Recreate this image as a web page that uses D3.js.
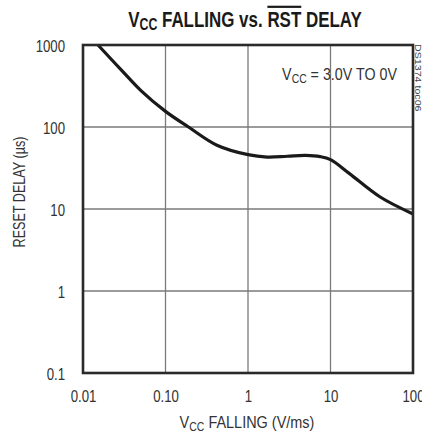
<!DOCTYPE html>
<html><head><meta charset="utf-8">
<script src="https://cdn.jsdelivr.net/npm/d3@7"></script>
<style>
body{margin:0;background:#fff;}
svg text{font-family:"Liberation Sans",Arial,sans-serif;}
</style></head>
<body><svg id="c" width="422" height="436"></svg>
<script>
const xTicks=[0.01,0.1,1,10,100];
const xTickLabels=["0.01","0.10","1","10","100"];
const yTicks=[0.1,1,10,100,1000];
const yTickLabels=["0.1","1","10","100","1000"];
const rate=[0.0152,0.03,0.05,0.1,0.19,0.42,1.0,1.7,3,5,7.5,10,17,40,100];
const delay=[1000,480,280,155,100,60,46,43,44,45,43.5,40,27,14,8.7];

const svg=d3.select("#c");
const L=83,R=413,T=45,B=373;
const x=d3.scaleLog().domain([0.01,100]).range([L,R]);
const y=d3.scaleLog().domain([0.1,1000]).range([B,T]);
const SX=0.8;

// gridlines
const g=svg.append("g");
g.selectAll(".vx").data(xTicks.slice(1,-1)).enter().append("line")
 .attr("x1",d=>x(d)).attr("x2",d=>x(d)).attr("y1",T).attr("y2",B)
 .attr("stroke","#7a7a7a").attr("stroke-width",1.3);
g.selectAll(".hy").data(yTicks.slice(1,-1)).enter().append("line")
 .attr("y1",d=>y(d)).attr("y2",d=>y(d)).attr("x1",L).attr("x2",R)
 .attr("stroke","#7a7a7a").attr("stroke-width",1.3);

// axes labels through d3 axes, then condense each label around its own anchor
const xa=svg.append("g").attr("transform",`translate(0,${B})`)
 .call(d3.axisBottom(x).tickValues(xTicks).tickFormat((d,i)=>xTickLabels[i]).tickSize(0).tickPadding(16));
const ya=svg.append("g").attr("transform",`translate(${L-18},0)`)
 .call(d3.axisLeft(y).tickValues(yTicks).tickFormat((d,i)=>yTickLabels[i]).tickSize(0).tickPadding(0));
[xa,ya].forEach(a=>{
  a.select(".domain").remove();
  a.selectAll("text").attr("font-size",16.5).attr("fill","#333")
   .style("font-family",'"Liberation Sans",Arial,sans-serif');
});
xa.selectAll(".tick text").attr("dy",null).attr("y",0).attr("transform",`translate(0,29) scale(${SX},1)`);
ya.selectAll(".tick text").attr("dy",null).attr("x",0).attr("transform",`translate(0,6) scale(${SX},1)`);

// curve
const line=d3.line().x((d,i)=>x(rate[i])).y((d,i)=>y(delay[i])).curve(d3.curveCatmullRom.alpha(0.5));
svg.append("path").datum(rate).attr("d",line).attr("fill","none")
 .attr("stroke","#1a1a1a").attr("stroke-width",3.2).attr("stroke-linejoin","round");

// frame
svg.append("rect").attr("x",L).attr("y",T).attr("width",R-L).attr("height",B-T)
 .attr("fill","none").attr("stroke","#2a2a2a").attr("stroke-width",2.6);

function fit(sel,cx,cy,anchor,w,rot){
  sel.attr("x",0).attr("y",0).attr("text-anchor",anchor);
  const bw=sel.node().getBBox().width;
  const s=w/bw;
  sel.attr("transform",`translate(${cx},${cy})${rot?` rotate(${rot})`:""} scale(${s},1)`);
}

// title
const t=svg.append("text").attr("font-size",22).attr("font-weight","bold").attr("fill","#1a1a1a");
t.append("tspan").text("V");
t.append("tspan").attr("font-size",16).attr("dy",3).text("CC");
t.append("tspan").attr("dy",-3).text(" FALLING vs. ");
t.append("tspan").attr("text-decoration","overline").text("RST");
t.append("tspan").text(" DELAY");
fit(t,245,27,"middle",234);

// annotation
const a=svg.append("text").attr("font-size",16.5).attr("fill","#333");
a.append("tspan").text("V");
a.append("tspan").attr("font-size",12).attr("dy",3).text("CC");
a.append("tspan").attr("dy",-3).text(" = 3.0V TO 0V");
fit(a,397,80,"end",115);

// x label
const xl=svg.append("text").attr("font-size",16.5).attr("fill","#333");
xl.append("tspan").text("V");
xl.append("tspan").attr("font-size",12).attr("dy",3).text("CC");
xl.append("tspan").attr("dy",-3).text(" FALLING (V/ms)");
fit(xl,247,428,"middle",135);

// y label
const yl=svg.append("text").attr("font-size",16.5).attr("fill","#333").text("RESET DELAY (µs)");
fit(yl,25,192,"middle",111,-90);

// side code
const sc=svg.append("text").attr("font-size",8.5).attr("fill","#444").text("DS1374 toc06");
fit(sc,415,44,"start",68,90);
</script></body></html>
